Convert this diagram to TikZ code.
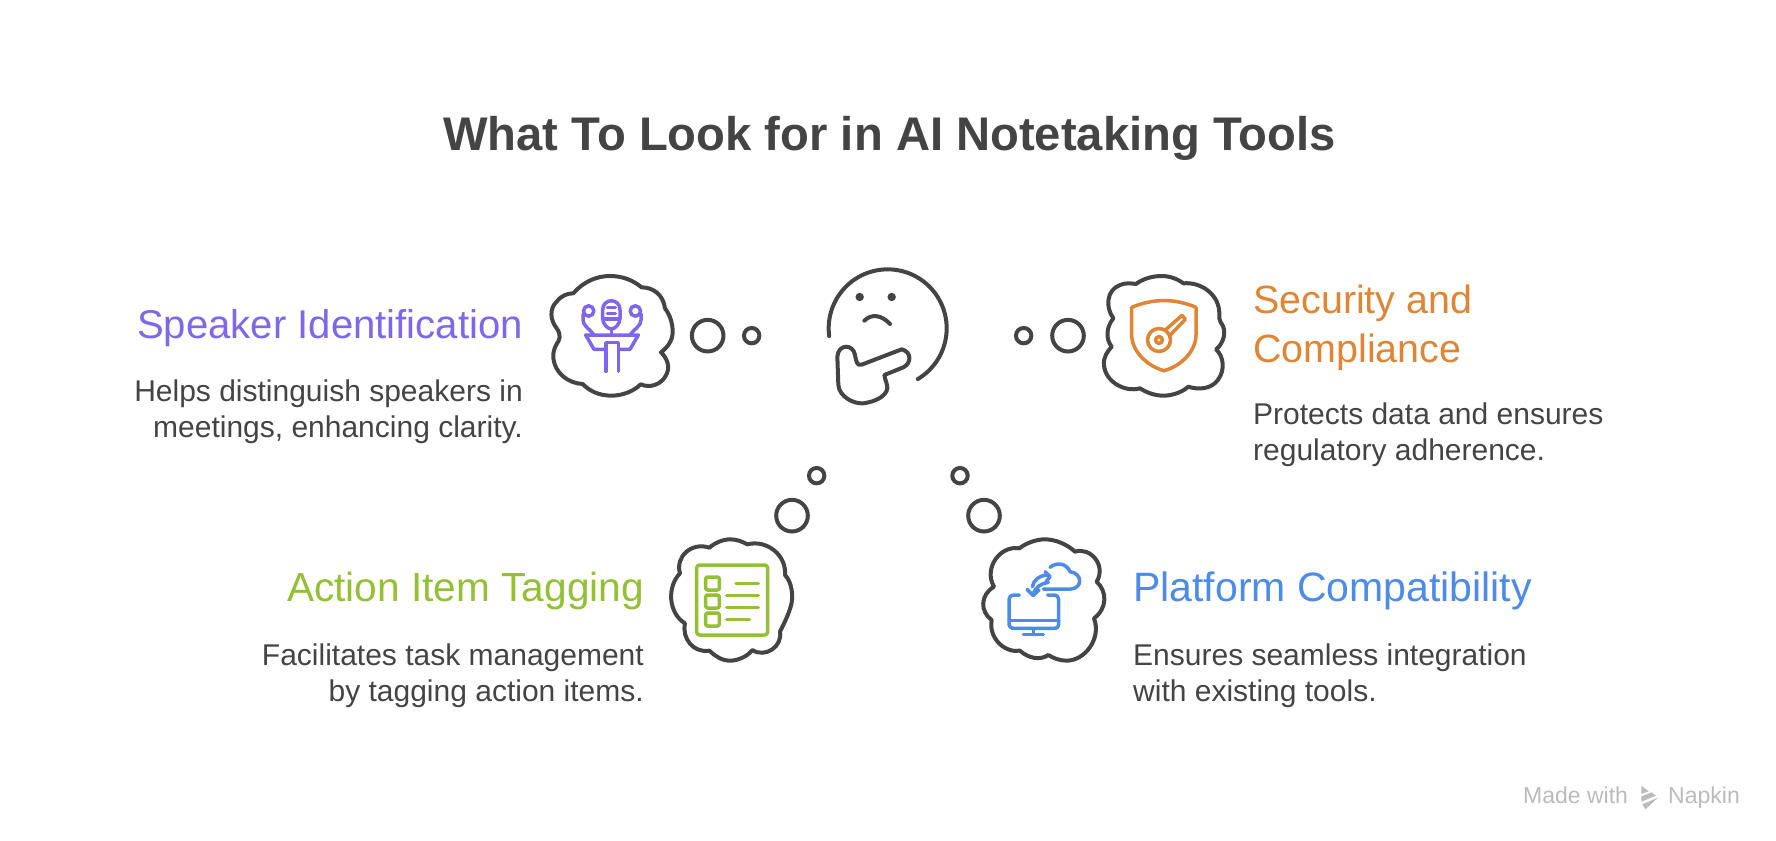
\documentclass[tikz,border=0pt]{standalone}
\usepackage{fontspec}
\setmainfont{Liberation Sans}
\definecolor{ink}{HTML}{444444}
\definecolor{cpurple}{HTML}{7F66EA}
\definecolor{corange}{HTML}{E08533}
\definecolor{cgreen}{HTML}{93C034}
\definecolor{cblue}{HTML}{4C8BE8}
\definecolor{cmark}{HTML}{BBBBBB}
\newcommand{\bodyfont}{\fontsize{30}{36}\selectfont}
\newcommand{\markfont}{\fontsize{23}{23}\selectfont}
\tikzset{
  zoomed/.style={x=0.33333pt,y=-0.33333pt},
  cloudline/.style={draw=ink,line width=4pt,line join=round,line cap=round},
  bubble/.style={draw=ink,line width=4pt},
  iconline/.style={line width=3.5pt,line join=round,line cap=round},
  headtext/.style={inner sep=0pt},
  bodytext/.style={inner sep=0pt,font=\bodyfont,text=ink},
  marktext/.style={anchor=base west,inner sep=0pt,text=cmark,font=\markfont},
}
\begin{document}
\begin{tikzpicture}[x=1pt,y=-1pt]
\useasboundingbox[fill=white] (0,0) rectangle (1776,840);

\node[anchor=base,inner sep=0pt,font=\fontsize{47.2}{48}\selectfont\bfseries,text=ink] (title) at (889.5,150) {What To Look for in AI Notetaking Tools};

% Left top text
\node[headtext,anchor=base east,text=cpurple,font=\fontsize{40.1}{48}\selectfont] (speakerhead) at (523,338) {Speaker Identification};
\node[bodytext,anchor=base east] (speakerone) at (523,401) {Helps distinguish speakers in};
\node[bodytext,anchor=base east] (speakertwo) at (523,437) {meetings, enhancing clarity.};

% Right top text
\node[headtext,anchor=base west,text=corange,font=\fontsize{39.4}{48}\selectfont] (secheadone) at (1253,313) {Security and};
\node[headtext,anchor=base west,text=corange,font=\fontsize{39.4}{48}\selectfont] (secheadtwo) at (1253,362) {Compliance};
\node[bodytext,anchor=base west] (secone) at (1253,424) {Protects data and ensures};
\node[bodytext,anchor=base west] (sectwo) at (1253,460) {regulatory adherence.};

% Left bottom text
\node[headtext,anchor=base east,text=cgreen,font=\fontsize{40.6}{48}\selectfont] (actionhead) at (644,601.5) {Action Item Tagging};
\node[bodytext,anchor=base east] (actionone) at (644,665) {Facilitates task management};
\node[bodytext,anchor=base east] (actiontwo) at (644,701) {by tagging action items.};

% Right bottom text
\node[headtext,anchor=base west,text=cblue,font=\fontsize{41}{48}\selectfont] (plathead) at (1133,601.5) {Platform Compatibility};
\node[bodytext,anchor=base west] (platone) at (1133,665) {Ensures seamless integration};
\node[bodytext,anchor=base west] (plattwo) at (1133,701) {with existing tools.};

% Watermark
\node[marktext] (made) at (1523,803) {Made with};
\node[marktext] (napkin) at (1668,803) {Napkin};
\begin{scope}[shift={(1500,770)},zoomed]
  \fill[cmark] (424,47) -- (446,64) -- (424,72) -- cycle;
  \fill[cmark] (424,79) -- (455,67) -- (468,77) -- (424,95) -- cycle;
  \fill[cmark] (427,103) -- (474,83) -- (436,118) -- cycle;
\end{scope}

% Speaker cloud, bubbles and microphone
\begin{scope}[shift={(530,250)},zoomed]
  \draw[cloudline] (130,130) .. controls (160,95) and (200,78) .. (240,78)
    .. controls (280,78) and (310,92) .. (335,112)
    .. controls (370,112) and (400,135) .. (405,175)
    .. controls (420,195) and (428,220) .. (428,245)
    .. controls (428,270) and (415,290) .. (393,307)
    .. controls (412,325) and (420,350) .. (410,372)
    .. controls (395,405) and (360,415) .. (332,403)
    .. controls (310,425) and (275,437) .. (245,437)
    .. controls (210,437) and (180,425) .. (158,402)
    .. controls (115,400) and (75,370) .. (70,325)
    .. controls (68,300) and (78,285) .. (86,272)
    .. controls (92,260) and (88,245) .. (80,235)
    .. controls (60,210) and (58,175) .. (80,155)
    .. controls (95,135) and (115,130) .. (130,130) -- cycle;
  \draw[bubble] (533,257) circle[radius=15.8pt];
  \draw[bubble] (665,257) circle[radius=7.7pt];
  \begin{scope}[draw=cpurple,iconline]
    \draw (218,205) -- (218,180) .. controls (218,143) and (270,143) .. (270,180) -- (270,205)
      .. controls (270,222) and (255,237) .. (244,237) .. controls (233,237) and (218,222) .. (218,205) -- cycle;
    \draw (232,172) -- (256,172);
    \draw (232,190) -- (256,190);
    \draw (220,207) -- (268,207);
    \draw (244,237) -- (244,252);
    \draw (167,255) -- (325,255) -- (300,298) -- (266,298);
    \draw (167,255) -- (192,298) -- (228,298);
    \draw (228,364) -- (228,278) -- (266,278) -- (266,364);
    \draw (176,183) circle[radius=5.2pt];
    \draw (316,183) circle[radius=5.2pt];
    \draw (159,192) -- (159,210) .. controls (159,228) and (180,238) .. (190,252);
    \draw (333,192) -- (333,210) .. controls (333,228) and (312,238) .. (302,252);
  \end{scope}
\end{scope}

% Thinking face, right bubbles, security cloud
\begin{scope}[shift={(800,250)},zoomed]
  \draw[draw=ink,line width=4pt,line cap=round] plot[domain=172.5:419.3,samples=90,smooth] ({263+177*cos(\x)},{235+177*sin(\x)});
  \fill[ink] (179,141) circle[radius=4.2pt];
  \fill[ink] (275,141) circle[radius=4.2pt];
  \draw[cloudline] (193,212) .. controls (215,190) and (245,195) .. (270,222);
  \draw[cloudline] (253,375) -- (310,352) .. controls (335,340) and (335,305) .. (305,298) -- (185,344)
    .. controls (170,350) and (168,330) .. (165,315) .. controls (160,282) and (115,280) .. (112,320) -- (115,405)
    .. controls (118,440) and (160,462) .. (190,460) .. controls (225,455) and (258,440) .. (262,415)
    .. controls (262,400) and (255,390) .. (253,375) -- cycle;
  \draw[bubble] (671,257) circle[radius=7.7pt];
  \draw[bubble] (804,257) circle[radius=15.8pt];
  \draw[cloudline] (1008,102) .. controls (1030,85) and (1060,78) .. (1085,78)
    .. controls (1110,78) and (1135,88) .. (1150,100)
    .. controls (1205,95) and (1258,135) .. (1258,190)
    .. controls (1256,200) and (1258,210) .. (1262,217)
    .. controls (1282,240) and (1272,280) .. (1248,298)
    .. controls (1272,320) and (1275,360) .. (1255,388)
    .. controls (1235,418) and (1195,420) .. (1165,410)
    .. controls (1145,428) and (1115,437) .. (1090,437)
    .. controls (1065,437) and (1040,428) .. (1020,415)
    .. controls (975,428) and (915,395) .. (912,345)
    .. controls (910,320) and (922,305) .. (935,290)
    .. controls (915,265) and (920,230) .. (940,205)
    .. controls (915,170) and (920,120) .. (960,105)
    .. controls (975,98) and (995,100) .. (1008,102) -- cycle;
  \begin{scope}[draw=corange,iconline]
    \draw (995,172) .. controls (1060,145) and (1125,145) .. (1188,172) -- (1188,255)
      .. controls (1188,305) and (1140,350) .. (1092,362)
      .. controls (1045,350) and (995,305) .. (995,255) -- cycle;
    \draw (1077,270) circle[radius=11.5pt];
    \draw (1077,270) circle[radius=3.4pt];
    \draw (1096,240) -- (1146,196) -- (1156,208) -- (1108,258);
  \end{scope}
\end{scope}

% Left lower bubbles and action cloud
\begin{scope}[shift={(660,450)},zoomed]
  \draw[bubble] (396,197) circle[radius=15.8pt];
  \draw[bubble] (470,77) circle[radius=7.7pt];
  \draw[cloudline] (148,293) .. controls (165,278) and (190,268) .. (210,268)
    .. controls (230,268) and (248,275) .. (262,283)
    .. controls (320,268) and (380,315) .. (375,375)
    .. controls (395,395) and (402,440) .. (392,470)
    .. controls (385,495) and (370,525) .. (360,545)
    .. controls (368,590) and (315,625) .. (277,600)
    .. controls (260,622) and (230,632) .. (210,632)
    .. controls (185,632) and (165,618) .. (148,602)
    .. controls (100,610) and (65,565) .. (75,520)
    .. controls (25,490) and (20,410) .. (60,370)
    .. controls (45,320) and (95,275) .. (148,293) -- cycle;
  \begin{scope}[draw=cgreen,iconline]
    \draw[rounded corners=3pt] (110,345) rectangle (323,555);
    \draw[rounded corners=2pt] (137,381) rectangle (178,420);
    \draw[rounded corners=2pt] (137,435) rectangle (178,474);
    \draw[rounded corners=2pt] (137,489) rectangle (178,528);
    \draw (228,400) -- (295,400);
    \draw (200,436) -- (295,436);
    \draw (200,472) -- (295,472);
    \draw (200,508) -- (268,508);
  \end{scope}
\end{scope}

% Right lower bubbles
\begin{scope}[shift={(930,450)},zoomed]
  \draw[bubble] (162,197) circle[radius=15.8pt];
  \draw[bubble] (90,77) circle[radius=7.7pt];
\end{scope}

% Platform cloud and monitor icon
\begin{scope}[shift={(970,530)},zoomed]
  \draw[cloudline] (148,55) .. controls (170,38) and (200,28) .. (225,28)
    .. controls (255,28) and (290,42) .. (315,65)
    .. controls (360,50) and (410,105) .. (380,155)
    .. controls (412,185) and (412,235) .. (372,265)
    .. controls (395,325) and (345,392) .. (290,392)
    .. controls (270,392) and (250,385) .. (235,375)
    .. controls (210,392) and (175,385) .. (150,362)
    .. controls (105,370) and (55,325) .. (65,270)
    .. controls (30,245) and (30,195) .. (72,170)
    .. controls (40,115) and (90,45) .. (148,55) -- cycle;
  \begin{scope}[draw=cblue,iconline]
    \draw (148,195) -- (132,195) .. controls (122,195) and (117,202) .. (117,212) -- (117,280)
      .. controls (117,290) and (122,295) .. (132,295) -- (252,295)
      .. controls (262,295) and (266,290) .. (266,280) -- (266,212)
      .. controls (266,202) and (262,195) .. (252,195) -- (233,195);
    \draw (117,272) -- (266,272);
    \draw (190,297) -- (190,313);
    \draw (160,313) -- (220,313);
    \draw (220,177) -- (303,177) .. controls (338,175) and (338,130) .. (300,125)
      .. controls (290,100) and (260,95) .. (240,112);
    \draw (187,170) .. controls (190,150) and (210,135) .. (235,135);
    \draw (225,125) -- (240,140) -- (228,155);
    \draw (235,157) .. controls (215,160) and (197,170) .. (190,190);
    \draw (171,178) -- (190,197) -- (207,180);
  \end{scope}
\end{scope}
\end{tikzpicture}
\end{document}
